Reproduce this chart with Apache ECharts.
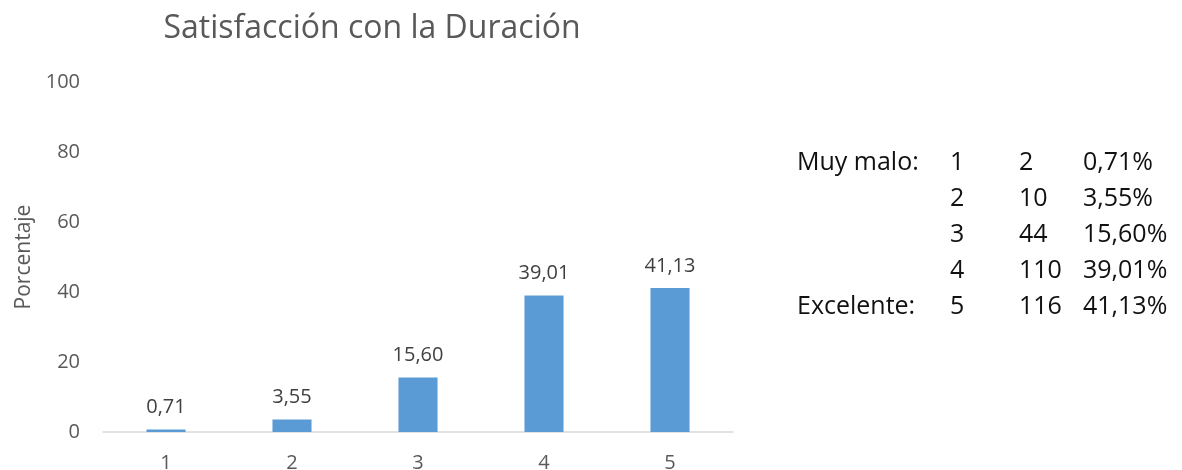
<!DOCTYPE html>
<html>
<head>
<meta charset="utf-8">
<script src="https://cdn.jsdelivr.net/npm/echarts@6/dist/echarts.min.js"></script>
<style>
  html, body { margin: 0; padding: 0; background: #fff; }
  #chart { width: 1182px; height: 470px; }
</style>
</head>
<body>
<div id="chart"></div>
<script>
// datos
const categories = ['1', '2', '3', '4', '5'];
const percentages = [0.71, 3.55, 15.60, 39.01, 41.13];
const counts = [2, 10, 44, 110, 116];
const rowLabels = ['Muy malo:', '', '', '', 'Excelente:'];
const yTicks = [0, 20, 40, 60, 80, 100];

const fmt = v => v.toFixed(2).replace('.', ',');

const chart = echarts.init(document.getElementById('chart'));

// tabla a la derecha
const tableFont = '25px "Open Sans", sans-serif';
const tableItems = [];
categories.forEach((c, i) => {
  const y = 150 + i * 36;
  const cols = [
    { x: 797, text: rowLabels[i] },
    { x: 950, text: c },
    { x: 1019, text: String(counts[i]) },
    { x: 1083, text: fmt(percentages[i]) + '%' }
  ];
  cols.forEach(col => {
    if (!col.text) return;
    tableItems.push({
      type: 'text',
      left: col.x,
      top: y,
      style: { text: col.text, font: tableFont, fill: '#111' }
    });
  });
});

chart.setOption({
  animation: false,
  title: {
    text: 'Satisfacción con la Duración',
    left: 367,
    top: 8,
    textAlign: 'center',
    textStyle: {
      fontFamily: 'Open Sans',
      fontSize: 32,
      fontWeight: 'normal',
      color: '#595959'
    }
  },
  grid: {
    left: 103,
    right: 449,
    top: 82,
    bottom: 38,
    outerBoundsMode: 'none'
  },
  xAxis: {
    type: 'category',
    data: categories,
    axisLine: { lineStyle: { color: '#D9D9D9', width: 1.5 } },
    axisTick: { show: false },
    axisLabel: {
      color: '#595959',
      fontFamily: 'Open Sans',
      fontSize: 20,
      margin: 21
    }
  },
  yAxis: {
    type: 'value',
    min: yTicks[0],
    max: yTicks[yTicks.length - 1],
    interval: 20,
    name: 'Porcentaje',
    nameLocation: 'middle',
    nameGap: 68,
    nameTextStyle: {
      color: '#595959',
      fontFamily: 'Open Sans',
      fontSize: 21
    },
    axisLine: { show: false },
    axisTick: { show: false },
    splitLine: { show: false },
    axisLabel: {
      color: '#595959',
      fontFamily: 'Open Sans',
      fontSize: 20,
      margin: 23
    }
  },
  series: [{
    type: 'bar',
    data: percentages,
    barWidth: '31%',
    itemStyle: { color: '#5B9BD5' },
    label: {
      show: true,
      position: 'top',
      distance: 12,
      color: '#404040',
      fontFamily: 'Open Sans',
      fontSize: 20,
      formatter: p => fmt(p.value)
    }
  }],
  graphic: tableItems
});
</script>
</body>
</html>
